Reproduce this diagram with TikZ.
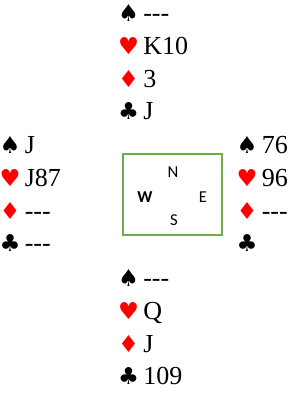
\documentclass[tikz,border=0pt]{standalone}
\usepackage{fontspec}
\setmainfont{Liberation Serif}
\newfontfamily\suitfont{DejaVu Sans}
\newfontfamily\seatfont{Carlito}
\usetikzlibrary{positioning}
\definecolor{suitred}{HTML}{FF0000}
\definecolor{tablegreen}{HTML}{70AD47}
\newcommand\nocards{-\kern0pt-\kern0pt-}
\tikzset{
  suit/.style={font=\suitfont\fontsize{17.5}{18}\selectfont, inner sep=0pt},
  holding/.style={font=\fontsize{19.5}{20}\selectfont, inner sep=0pt,
    anchor=base west},
  tablebox/.style={draw=tablegreen, line width=1.5pt, inner sep=0pt},
  seat/.style={font=\seatfont\fontsize{12.5}{13}\selectfont, inner sep=0pt},
}
\begin{document}
\begin{tikzpicture}[x=0.75pt,y=-0.75pt]
  \useasboundingbox (0,0) rectangle (306,401);
  % the four hands: seat, suit column x, top row y, holdings
  \foreach \h/\x/\y/\sp/\he/\di/\cl in {
      n/128.5/13/\nocards/K10/3/J,
      w/10/145/J/J87/\nocards/\nocards,
      e/247/145/76/96/\nocards/{},
      s/128.5/278/\nocards/Q/J/109} {
    \foreach \s/\c/\t [count=\i from 0] in {
        ♠/black/\sp, ♥/suitred/\he, ♦/suitred/\di, ♣/black/\cl} {
      \node[suit, text=\c] (\h\i) at (\x,\y+\i*32.8) {\s};
      \node[holding] (\h\i t) at (\x+14.5,\y+\i*32.8+8.5) {\t};
    }
  }
  % the table
  \node[tablebox, minimum width=74.25pt, minimum height=60.75pt]
    (table) at (172.5,194.5) {};
  \node[seat] (N) at (173,172) {N};
  \node[seat, font=\seatfont\bfseries\fontsize{12.5}{13}\selectfont]
    (W) at (145,197) {W};
  \node[seat] (E) at (203,197) {E};
  \node[seat] (S) at (174,220) {S};
\end{tikzpicture}
\end{document}
